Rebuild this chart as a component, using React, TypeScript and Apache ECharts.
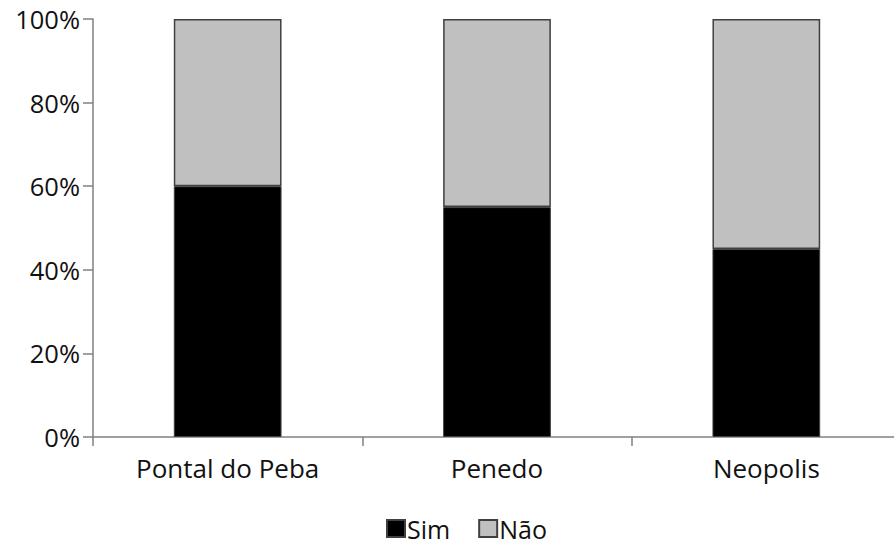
import React, { useEffect, useRef } from "react";
import * as echarts from "echarts";

const categories = ["Pontal do Peba", "Penedo", "Neopolis"];
const simValues = [60, 55, 45];
const naoValues = [40, 45, 55];
const yTicks = [0, 20, 40, 60, 80, 100];

const FONT = "'Open Sans', Lato, sans-serif";

export default function App() {
  const ref = useRef<HTMLDivElement>(null);

  useEffect(() => {
    document.body.style.margin = "0";
    const chart = echarts.init(ref.current!, null, { renderer: "svg" });
    chart.setOption({
      animation: false,
      backgroundColor: "#ffffff",
      textStyle: { fontFamily: FONT },
      // the plot runs slightly past the visible right edge, like the x axis line
      grid: { left: 93, top: 19, width: 808, height: 418, containLabel: false },
      legend: {
        top: 511,
        left: 381,
        padding: [5, 5, 0, 5],
        itemWidth: 18,
        itemHeight: 17,
        itemGap: 28,
        icon: "rect",
        textStyle: {
          fontFamily: FONT,
          fontSize: 25,
          lineHeight: 20,
          color: "#111",
          padding: [0, 0, 0, -3],
        },
        data: ["Sim", "Não"],
      },
      xAxis: {
        type: "category",
        data: categories,
        boundaryGap: true,
        axisLine: { lineStyle: { color: "#808080", width: 1.5 } },
        axisTick: { show: true, length: 9, lineStyle: { color: "#808080", width: 1.5 } },
        axisLabel: { fontFamily: FONT, fontSize: 26, color: "#111", margin: 18 },
      },
      yAxis: {
        type: "value",
        min: yTicks[0],
        max: yTicks[yTicks.length - 1],
        interval: 20,
        splitLine: { show: false },
        axisLine: { show: true, lineStyle: { color: "#808080", width: 1.5 } },
        axisTick: { show: true, length: 10, lineStyle: { color: "#808080", width: 1.5 } },
        axisLabel: {
          fontFamily: FONT,
          fontSize: 25.5,
          color: "#111",
          margin: 13,
          formatter: (v: number) => `${v}%`,
        },
      },
      series: [
        {
          name: "Sim",
          type: "bar",
          stack: "total",
          data: simValues,
          barWidth: "40%",
          itemStyle: { color: "#000000", borderColor: "#404040", borderWidth: 1 },
        },
        {
          name: "Não",
          type: "bar",
          stack: "total",
          data: naoValues,
          barWidth: "40%",
          itemStyle: { color: "#c0c0c0", borderColor: "#404040", borderWidth: 1.5 },
        },
      ],
    });
    return () => chart.dispose();
  }, []);

  return (
    <div style={{ width: 894, height: 545, overflow: "hidden", position: "relative" }}>
      <div ref={ref} style={{ width: 910, height: 545 }} />
    </div>
  );
}
